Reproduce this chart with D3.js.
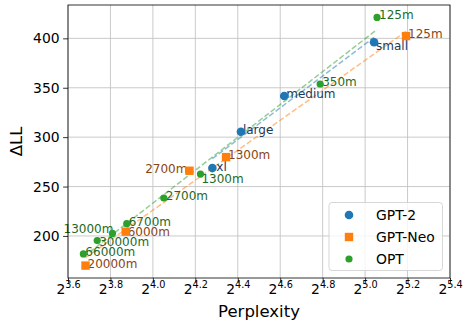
<!DOCTYPE html>
<html>
<head>
<meta charset="utf-8">
<script src="https://cdn.jsdelivr.net/npm/d3@7"></script>
<style>
  body { margin: 0; background: #fff; }
  svg { display: block; font-family: "DejaVu Sans", sans-serif; }
</style>
</head>
<body>
<div id="chart"></div>
<script>
// GPT-2
const gpt2Labels = ["small", "medium", "large", "xl"];
const gpt2Ppl = [32.95, 24.57, 21.33, 19.43];
const gpt2Dll = [396.0, 341.7, 305.4, 268.7];

// GPT-Neo
const neoLabels = ["125m", "1300m", "2700m", "6000m", "20000m"];
const neoPpl = [36.58, 20.32, 18.03, 14.64, 12.84];
const neoDll = [402.3, 279.8, 266.0, 204.3, 170.0];

// OPT
const optLabels = ["125m", "350m", "1300m", "2700m", "6700m", "13000m", "30000m", "66000m"];
const optPpl = [33.27, 27.63, 18.69, 16.58, 14.69, 14.02, 13.34, 12.75];
const optDll = [421.2, 353.8, 262.6, 238.4, 212.4, 202.6, 195.3, 181.8];

// ticks
const xTickExps = ["3.6", "3.8", "4.0", "4.2", "4.4", "4.6", "4.8", "5.0", "5.2", "5.4"];
const yTicks = [200, 250, 300, 350, 400];

const series = [
  { name: "GPT-2", key: "gpt2", color: "#1f77b4", text: "#1b3a5c", shape: "circle", labels: gpt2Labels, x: gpt2Ppl, y: gpt2Dll },
  { name: "GPT-Neo", key: "neo", color: "#ff7f0e", text: "#8a4512", shape: "square", labels: neoLabels, x: neoPpl, y: neoDll },
  { name: "OPT", key: "opt", color: "#2ca02c", text: "#1f6a1f", shape: "small", labels: optLabels, x: optPpl, y: optDll }
];

// a few labels were nudged in the original
const labelNudge = {
  "gpt2:small": { dy: 8 },
  "gpt2:xl": { dx: 4, dy: 3 },
  "neo:2700m": { dx: -2, anchor: "end" },
  "neo:6000m": { dy: 4 },
  "opt:1300m": { dx: 1, dy: 9 },
  "opt:13000m": { dx: 1, dy: 0, anchor: "end" },
  "opt:30000m": { dy: 5 }
};

const W = 463, H = 320;
const margin = { top: 5, right: 13, bottom: 42, left: 68 };
const width = W - margin.left - margin.right;
const height = H - margin.top - margin.bottom;

const svg = d3.select("#chart").append("svg")
  .attr("width", W)
  .attr("height", H);

const g = svg.append("g")
  .attr("transform", `translate(${margin.left},${margin.top})`);

const x = d3.scaleLog().base(2)
  .domain([Math.pow(2, +xTickExps[0]), Math.pow(2, +xTickExps[xTickExps.length - 1])])
  .range([0, width]);

const allY = gpt2Dll.concat(neoDll, optDll);
const yMin = d3.min(allY), yMax = d3.max(allY);
const pad = (yMax - yMin) * 0.05;
const y = d3.scaleLinear()
  .domain([yMin - pad, yMax + pad])
  .range([height, 0]);

const xTickVals = xTickExps.map(e => Math.pow(2, +e));

// grid
g.append("g")
  .selectAll("line")
  .data(xTickVals)
  .join("line")
  .attr("x1", d => x(d)).attr("x2", d => x(d))
  .attr("y1", 0).attr("y2", height)
  .attr("stroke", "#c4c4c4").attr("stroke-width", 0.9);

g.append("g")
  .selectAll("line")
  .data(yTicks)
  .join("line")
  .attr("x1", 0).attr("x2", width)
  .attr("y1", d => y(d)).attr("y2", d => y(d))
  .attr("stroke", "#c4c4c4").attr("stroke-width", 0.9);

// trend lines (least squares in log2 space)
series.forEach(s => {
  const lx = s.x.map(v => Math.log2(v));
  const mx = d3.mean(lx), my = d3.mean(s.y);
  const slope = d3.sum(lx, (v, i) => (v - mx) * (s.y[i] - my)) / d3.sum(lx, v => (v - mx) * (v - mx));
  const icpt = my - slope * mx;
  const ends = d3.extent(lx);
  g.append("line")
    .attr("x1", x(Math.pow(2, ends[0])))
    .attr("y1", y(icpt + slope * ends[0]))
    .attr("x2", x(Math.pow(2, ends[1])))
    .attr("y2", y(icpt + slope * ends[1]))
    .attr("stroke", s.color)
    .attr("stroke-opacity", 0.5)
    .attr("stroke-width", 1.5)
    .attr("stroke-dasharray", "5.5,2.4");
});

// labels
series.forEach(s => {
  s.labels.forEach((lab, i) => {
    const n = labelNudge[s.key + ":" + lab] || {};
    g.append("text")
      .attr("x", x(s.x[i]) + (n.dx !== undefined ? n.dx : 2))
      .attr("y", y(s.y[i]) + (n.dy !== undefined ? n.dy : 2))
      .attr("text-anchor", n.anchor || "start")
      .style("font-size", "12px")
      .style("fill", s.text)
      .text(lab);
  });
});

function drawMarker(sel, shape, color) {
  if (shape === "square") {
    sel.append("rect")
      .attr("x", -4.2).attr("y", -4.2)
      .attr("width", 8.4).attr("height", 8.4)
      .attr("fill", color);
  } else {
    sel.append("circle")
      .attr("r", shape === "small" ? 3.6 : 4.3)
      .attr("fill", color);
  }
}

// points
series.forEach(s => {
  s.x.forEach((v, i) => {
    const m = g.append("g").attr("transform", `translate(${x(v)},${y(s.y[i])})`);
    drawMarker(m, s.shape, s.color);
  });
});

// axes
const xAxis = g.append("g")
  .attr("transform", `translate(0,${height})`)
  .call(d3.axisBottom(x).tickValues(xTickVals).tickSize(4.9).tickPadding(4).tickFormat(""));

xAxis.selectAll(".tick").each(function(d, i) {
  const t = d3.select(this).append("text")
    .attr("fill", "#000")
    .attr("text-anchor", "middle")
    .attr("y", 16)
    .style("font-size", "13.9px");
  t.append("tspan").text("2");
  t.append("tspan")
    .attr("dy", -6)
    .style("font-size", "9.7px")
    .text(xTickExps[i]);
});

const yAxis = g.append("g")
  .call(d3.axisLeft(y).tickValues(yTicks).tickSize(4.9).tickPadding(3.5));

yAxis.selectAll(".tick text").style("font-size", "13.9px").attr("fill", "#000");

[xAxis, yAxis].forEach(a => {
  a.select(".domain").remove();
  a.selectAll(".tick line").attr("stroke", "#000").attr("stroke-width", 0.8);
  a.style("font-family", "DejaVu Sans, sans-serif");
});

// frame
g.append("rect")
  .attr("width", width).attr("height", height)
  .attr("fill", "none")
  .attr("stroke", "#000")
  .attr("stroke-width", 0.8);

// axis labels
g.append("text")
  .attr("x", width / 2)
  .attr("y", height + 38.5)
  .attr("text-anchor", "middle")
  .style("font-size", "16.5px")
  .text("Perplexity");

g.append("text")
  .attr("transform", "rotate(-90)")
  .attr("x", -height / 2)
  .attr("y", -46)
  .attr("text-anchor", "middle")
  .style("font-size", "16.5px")
  .text("ΔLL");

// legend
const lg = g.append("g").attr("transform", `translate(${width - 121},${height - 75.5})`);
lg.append("rect")
  .attr("width", 113.5).attr("height", 68)
  .attr("rx", 3)
  .attr("fill", "#fff").attr("fill-opacity", 0.8)
  .attr("stroke", "#cccccc").attr("stroke-width", 0.8);

series.forEach((s, i) => {
  const row = lg.append("g").attr("transform", `translate(20,${12.5 + i * 22})`);
  drawMarker(row, s.shape, s.color);
  row.append("text")
    .attr("x", 27)
    .attr("y", 5)
    .style("font-size", "13.9px")
    .text(s.name);
});
</script>
</body>
</html>
